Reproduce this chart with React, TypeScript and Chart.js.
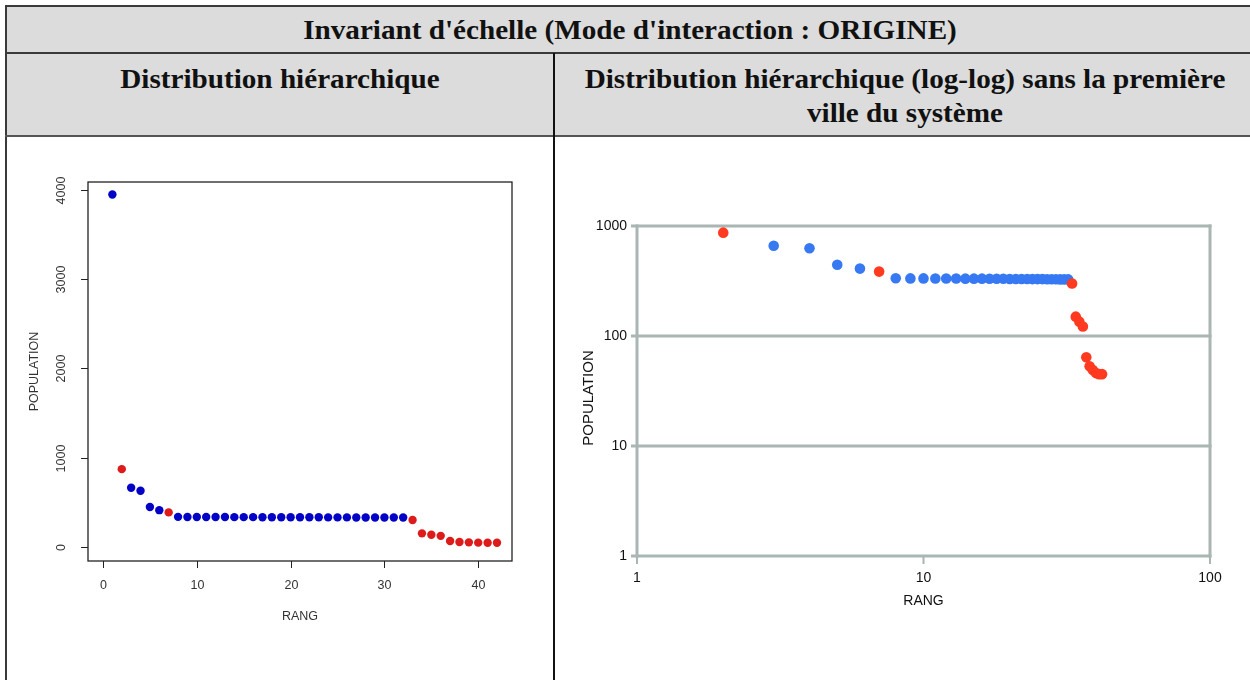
import React, { useEffect, useRef } from "react";
import { Chart, registerables } from "chart.js";

Chart.register(...registerables);

// ---------- data ----------
const ranks = [
  1, 2, 3, 4, 5, 6, 7, 8, 9, 10, 11, 12, 13, 14, 15, 16, 17, 18, 19, 20, 21,
  22, 23, 24, 25, 26, 27, 28, 29, 30, 31, 32, 33, 34, 35, 36, 37, 38, 39, 40,
  41, 42,
];
const population = [
  3950, 870, 662, 627, 445, 410, 385, 335, 334, 334, 333, 333, 333, 332, 332,
  332, 331, 331, 331, 330, 330, 330, 330, 329, 329, 329, 328, 328, 328, 327,
  327, 327, 300, 150, 135, 122, 64, 53, 49, 46, 45, 45,
];
// "R" = red class, "B" = blue class
const classes = [
  "B", "R", "B", "B", "B", "B", "R", "B", "B", "B", "B", "B", "B", "B", "B",
  "B", "B", "B", "B", "B", "B", "B", "B", "B", "B", "B", "B", "B", "B", "B",
  "B", "B", "R", "R", "R", "R", "R", "R", "R", "R", "R", "R",
];

const leftXTicks = [0, 10, 20, 30, 40];
const leftYTicks = [0, 1000, 2000, 3000, 4000];
const rightXTicks = [1, 10, 100];
const rightYTicks = [1, 10, 100, 1000];

const tableTitle = "Invariant d'échelle (Mode d'interaction : ORIGINE)";
const leftHeader = "Distribution hiérarchique";
const rightHeaderLines = [
  "Distribution hiérarchique (log-log) sans la première",
  "ville du système",
];
const xTitle = "RANG";
const yTitle = "POPULATION";

// ---------- styles ----------
const LEFT_BLUE = "#0303C8";
const LEFT_RED = "#DD1B1B";
const RIGHT_BLUE = "#3679F3";
const RIGHT_RED = "#FF3A1F";
const GRID = "#AAB6B4";

const leftAxesPlugin = {
  id: "leftAxes",
  afterDraw(chart: any) {
    const { ctx, chartArea } = chart;
    const { left, right, top, bottom } = chartArea;
    const xs = chart.scales.x;
    const ys = chart.scales.y;
    ctx.save();
    ctx.strokeStyle = "#222";
    ctx.lineWidth = 1.3;
    ctx.strokeRect(left, top, right - left, bottom - top);
    ctx.lineWidth = 1;
    ctx.fillStyle = "#333";
    ctx.font = "12.5px 'Liberation Sans', Arial, sans-serif";
    // x ticks
    ctx.textAlign = "center";
    ctx.textBaseline = "middle";
    leftXTicks.forEach((v) => {
      const px = Math.round(xs.getPixelForValue(v)) + 0.5;
      ctx.beginPath();
      ctx.moveTo(px, bottom);
      ctx.lineTo(px, bottom + 7);
      ctx.stroke();
      ctx.fillText(String(v), px, bottom + 25);
    });
    // y ticks (rotated labels)
    leftYTicks.forEach((v) => {
      const py = Math.round(ys.getPixelForValue(v)) + 0.5;
      ctx.beginPath();
      ctx.moveTo(left, py);
      ctx.lineTo(left - 7, py);
      ctx.stroke();
      ctx.save();
      ctx.translate(left - 26, py);
      ctx.rotate(-Math.PI / 2);
      ctx.fillText(String(v), 0, 0);
      ctx.restore();
    });
    ctx.fillText(xTitle, (left + right) / 2, bottom + 56);
    ctx.save();
    ctx.translate(left - 53, (top + bottom) / 2);
    ctx.rotate(-Math.PI / 2);
    ctx.fillText(yTitle, 0, 0);
    ctx.restore();
    ctx.restore();
  },
};

const rightAxesPlugin = {
  id: "rightAxes",
  beforeDatasetsDraw(chart: any) {
    const { ctx, chartArea } = chart;
    const { left, right, top, bottom } = chartArea;
    const xs = chart.scales.x;
    const ys = chart.scales.y;
    ctx.save();
    ctx.strokeStyle = GRID;
    ctx.lineWidth = 3;
    // horizontal grid lines at decades
    rightYTicks.forEach((v) => {
      const py = ys.getPixelForValue(v);
      ctx.beginPath();
      ctx.moveTo(left - 6, py);
      ctx.lineTo(right + 1.5, py);
      ctx.stroke();
    });
    // vertical borders
    [rightXTicks[0], rightXTicks[rightXTicks.length - 1]].forEach((v) => {
      const px = xs.getPixelForValue(v);
      ctx.beginPath();
      ctx.moveTo(px, top - 1.5);
      ctx.lineTo(px, bottom + 1.5);
      ctx.stroke();
    });
    // x tick marks
    ctx.lineWidth = 2;
    rightXTicks.forEach((v) => {
      const px = xs.getPixelForValue(v);
      ctx.beginPath();
      ctx.moveTo(px, bottom);
      ctx.lineTo(px, bottom + 8);
      ctx.stroke();
    });
    ctx.fillStyle = "#111";
    ctx.font = "14px 'Liberation Sans', Arial, sans-serif";
    ctx.textBaseline = "middle";
    ctx.textAlign = "right";
    rightYTicks.forEach((v) => {
      ctx.fillText(String(v), left - 10, ys.getPixelForValue(v));
    });
    ctx.textAlign = "center";
    rightXTicks.forEach((v) => {
      ctx.fillText(String(v), xs.getPixelForValue(v), bottom + 22);
    });
    ctx.fillText(xTitle, (left + right) / 2, bottom + 45);
    ctx.save();
    ctx.font = "15px 'Liberation Sans', Arial, sans-serif";
    ctx.translate(left - 48, (top + bottom) / 2 + 7);
    ctx.rotate(-Math.PI / 2);
    ctx.fillText(yTitle, 0, 0);
    ctx.restore();
    ctx.restore();
  },
};

function LeftChart() {
  const ref = useRef<HTMLCanvasElement>(null);
  useEffect(() => {
    if (!ref.current) return;
    const chart = new Chart(ref.current, {
      type: "scatter",
      data: {
        datasets: [
          {
            data: ranks.map((r, i) => ({ x: r, y: population[i] })),
            pointBackgroundColor: classes.map((c) => (c === "R" ? LEFT_RED : LEFT_BLUE)),
            pointBorderWidth: 0,
            pointRadius: 4.2,
          },
        ],
      },
      options: {
        animation: false,
        responsive: false,
        maintainAspectRatio: false,
        layout: { padding: { left: 81, top: 44, right: 41, bottom: 119 } },
        plugins: { legend: { display: false }, tooltip: { enabled: false } },
        scales: {
          x: { type: "linear", display: false, min: -1.6, max: 43.6 },
          y: { type: "linear", display: false, min: -160, max: 4090 },
        },
      },
      plugins: [leftAxesPlugin],
    } as any);
    return () => chart.destroy();
  }, []);
  return (
    <canvas
      ref={ref}
      width={546}
      height={542}
      style={{ position: "absolute", left: 7, top: 138, width: 546, height: 542 }}
    />
  );
}

function RightChart() {
  const ref = useRef<HTMLCanvasElement>(null);
  useEffect(() => {
    if (!ref.current) return;
    const chart = new Chart(ref.current, {
      type: "scatter",
      data: {
        datasets: [
          {
            data: ranks.slice(1).map((r, i) => ({ x: r, y: population[i + 1] })),
            pointBackgroundColor: classes
              .slice(1)
              .map((c) => (c === "R" ? RIGHT_RED : RIGHT_BLUE)),
            pointBorderWidth: 0,
            pointRadius: 5.3,
          },
        ],
      },
      options: {
        animation: false,
        responsive: false,
        maintainAspectRatio: false,
        layout: { padding: { left: 81, top: 88, right: 40, bottom: 124 } },
        plugins: { legend: { display: false }, tooltip: { enabled: false } },
        scales: {
          x: { type: "logarithmic", display: false, min: 1, max: 100 },
          y: { type: "logarithmic", display: false, min: 1, max: 1000 },
        },
      },
      plugins: [rightAxesPlugin],
    } as any);
    return () => chart.destroy();
  }, []);
  return (
    <canvas
      ref={ref}
      width={694}
      height={542}
      style={{ position: "absolute", left: 556, top: 138, width: 694, height: 542 }}
    />
  );
}

const headFont: React.CSSProperties = {
  position: "absolute",
  fontFamily: "'Liberation Serif', 'Times New Roman', serif",
  fontWeight: "bold",
  fontSize: 27,
  lineHeight: "34px",
  color: "#111",
  textAlign: "center",
  whiteSpace: "nowrap",
  transform: "scaleX(1.08)",
};

export default function App() {
  return (
    <div
      style={{
        position: "fixed",
        left: 0,
        top: 0,
        width: 1250,
        height: 680,
        overflow: "hidden",
        background: "#fff",
      }}
    >
      {/* header backgrounds */}
      <div style={{ position: "absolute", left: 5, top: 5, width: 1250, height: 132, background: "#DCDCDC" }} />
      {/* borders */}
      <div style={{ position: "absolute", left: 5, top: 5, width: 1250, height: 2, background: "#3a3a3a" }} />
      <div style={{ position: "absolute", left: 5, top: 5, width: 2, height: 680, background: "#3a3a3a" }} />
      <div style={{ position: "absolute", left: 5, top: 52, width: 1250, height: 2, background: "#3a3a3a" }} />
      <div style={{ position: "absolute", left: 5, top: 135, width: 1250, height: 2, background: "#555" }} />
      <div style={{ position: "absolute", left: 553, top: 53, width: 2, height: 630, background: "#111" }} />
      {/* header texts */}
      <div style={{ ...headFont, left: 5, width: 1250, top: 13 }}>{tableTitle}</div>
      <div style={{ ...headFont, left: 7, width: 546, top: 62 }}>{leftHeader}</div>
      <div style={{ ...headFont, left: 555, width: 700, top: 62 }}>
        {rightHeaderLines.map((l, i) => (
          <div key={i}>{l}</div>
        ))}
      </div>
      <LeftChart />
      <RightChart />
    </div>
  );
}
